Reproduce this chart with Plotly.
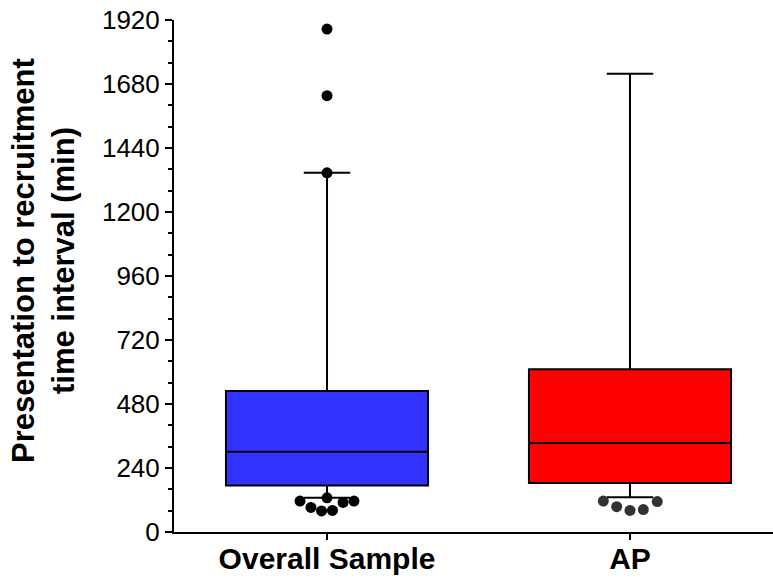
import plotly.graph_objects as go

categories = ["Overall Sample", "AP"]
q1 = [174, 184]
median = [301, 334]
q3 = [529, 610]
lower_whisker = [128, 130]
upper_whisker = [1347, 1718]

# outlier / extreme values per group
overall_points = [1886, 1636, 1347, 128, 116, 92, 79, 81, 111, 116]
ap_points = [116, 95, 81, 84, 114]

# horizontal spread of dots (beeswarm layout offsets, in category units)
overall_offsets = [0, 0, 0, 0, -0.089, -0.053, -0.018, 0.018, 0.053, 0.089]
ap_offsets = [-0.088, -0.044, 0, 0.044, 0.09]

y_title = "Presentation to recruitment<br>time interval (min)"

box_colors = ["#3333FF", "#FF0000"]
point_colors = ["#000000", "#333333"]

FONT = "Arial, Liberation Sans, sans-serif"

fig = go.Figure()
for i, cat in enumerate(categories):
    fig.add_trace(go.Box(
        x=[i], q1=[q1[i]], median=[median[i]], q3=[q3[i]],
        lowerfence=[lower_whisker[i]], upperfence=[upper_whisker[i]],
        fillcolor=box_colors[i], line=dict(color="black", width=2),
        width=0.667, whiskerwidth=0.23, boxpoints=False,
        name=cat, showlegend=False, hoverinfo="skip",
    ))

groups = [(overall_points, overall_offsets), (ap_points, ap_offsets)]
for i, (vals, offs) in enumerate(groups):
    fig.add_trace(go.Scatter(
        x=[i + o for o in offs], y=vals, mode="markers",
        marker=dict(color=point_colors[i], size=11, line=dict(width=0)),
        showlegend=False, hoverinfo="skip", cliponaxis=False,
    ))

fig.update_layout(
    width=773, height=579,
    margin=dict(l=174, r=0, t=20, b=47),
    plot_bgcolor="white", paper_bgcolor="white",
    font=dict(family=FONT, color="black"),
    annotations=[dict(
        text=y_title, textangle=-90, showarrow=False,
        xref="paper", yref="paper", x=-0.219, y=0.531,
        xanchor="center", yanchor="middle",
        font=dict(size=31, family=FONT, color="black", weight="bold"),
    )],
)
fig.update_xaxes(
    range=[-0.505, 1.472], automargin=False,
    tickvals=[0, 1], ticktext=categories,
    tickfont=dict(size=30, family=FONT, color="black", weight="bold"),
    ticks="outside", ticklen=6, tickwidth=2, tickcolor="black",
    ticklabelstandoff=-7,
    showline=True, linecolor="black", linewidth=2,
    showgrid=False, zeroline=False,
)
fig.update_yaxes(
    range=[0, 1920], automargin=False,
    tickvals=list(range(0, 1921, 240)),
    tickfont=dict(size=26, family=FONT, color="black"),
    ticks="outside", ticklen=7, tickwidth=2, tickcolor="black",
    minor=dict(dtick=80, ticks="outside", ticklen=4, tickwidth=1.5, tickcolor="black"),
    showline=True, linecolor="black", linewidth=2,
    showgrid=False, zeroline=False,
)

fig.write_html("out.html")
